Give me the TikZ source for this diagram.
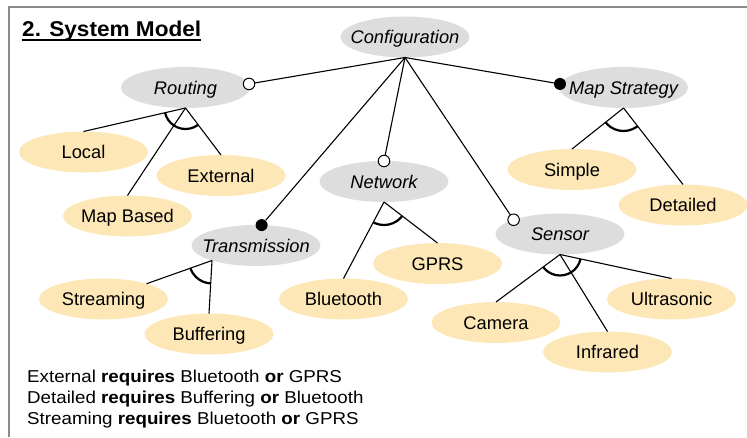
\documentclass[tikz,border=0pt]{standalone}
\usepackage{fontspec}
\setmainfont{Liberation Sans}
\newfontfamily\titlefont[FakeStretch=1.055]{Liberation Sans}
\newfontfamily\notefont[FakeStretch=1.09]{Liberation Sans}
\usetikzlibrary{shapes.geometric,calc}

\definecolor{featgray}{RGB}{221,221,221}
\definecolor{feattan}{RGB}{254,231,183}
\definecolor{framegray}{RGB}{140,140,140}

% zero-width label so the ellipse keeps its fixed size
\newcommand\ftxt[1]{\makebox[0pt]{#1}}

\tikzset{
  feat/.style={ellipse, minimum width=129pt, minimum height=41pt, inner sep=0pt,
    outer sep=0pt, text height=13pt, text depth=0pt},
  absfeat/.style={feat, fill=featgray, font=\fontsize{18.3}{20}\selectfont\itshape},
  leaffeat/.style={feat, fill=feattan, font=\fontsize{18.3}{20}\selectfont},
  optmark/.style={circle, draw, fill=white, line width=1pt, minimum size=11.5pt, inner sep=0pt},
  mandmark/.style={circle, fill=black, minimum size=12pt, inner sep=0pt},
  link/.style={line width=1.1pt},
  groupmark/.style={line width=2.2pt},
  constraint/.style={anchor=base west, inner sep=0pt, font=\notefont\fontsize{17.2}{20}\selectfont}
}

\begin{document}
\begin{tikzpicture}[x=1pt,y=-1pt]
\useasboundingbox (0,0) rectangle (747,437);

% open frame
\draw[framegray, line width=1.6pt] (9,437) -- (9,7) -- (747,7);

% title
\node[anchor=base west, inner sep=0pt, font=\titlefont\fontsize{21.4}{24}\selectfont\bfseries] (title) at (22,36) {2. System Model};
\draw[line width=1.8pt] ([yshift=-3.6pt]title.base west) -- ([yshift=-3.6pt]title.base east);

% features
\node[absfeat] (conf) at (405,37) {\ftxt{Configuration}};
\node[absfeat] (rout) at (185.5,87.5) {\ftxt{Routing}};
\node[absfeat] (maps) at (623.5,87.5) {\ftxt{Map Strategy}};
\node[absfeat] (net) at (384,181.5) {\ftxt{Network}};
\node[absfeat] (trans) at (256,245.5) {\ftxt{Transmission}};
\node[absfeat] (sens) at (560,234) {\ftxt{Sensor}};

\node[leaffeat] (local) at (83.5,152) {\ftxt{Local}};
\node[leaffeat] (ext) at (221,175.5) {\ftxt{External}};
\node[leaffeat] (mapb) at (127.5,216) {\ftxt{Map Based}};
\node[leaffeat] (simple) at (572,169.5) {\ftxt{Simple}};
\node[leaffeat] (detail) at (683,205) {\ftxt{Detailed}};
\node[leaffeat] (bt) at (343.5,299) {\ftxt{Bluetooth}};
\node[leaffeat] (gprs) at (437.5,263.5) {\ftxt{GPRS}};
\node[leaffeat] (stream) at (103.5,299) {\ftxt{Streaming}};
\node[leaffeat] (buff) at (209,334) {\ftxt{Buffering}};
\node[leaffeat] (cam) at (496,322.5) {\ftxt{Camera}};
\node[leaffeat] (infra) at (607.5,352) {\ftxt{Infrared}};
\node[leaffeat] (ultra) at (671.5,299) {\ftxt{Ultrasonic}};

% optional / mandatory markers on the sub-features
\node[optmark] (mR) at ($(rout)+(-10:64.5 and 20.5)$) {};
\node[mandmark] (mM) at ($(maps)+(-170:64.5 and 20.5)$) {};
\node[optmark] (mN) at (net.north) {};
\node[mandmark] (mT) at ($(trans)+(-85:64.5 and 20.5)$) {};
\node[optmark] (mS) at ($(sens)+(-136:64.5 and 20.5)$) {};

\draw[link] (conf.south) -- (mR);
\draw[link] (conf.south) -- (mM);
\draw[link] (conf.south) -- (mN);
\draw[link] (conf.south) -- (mT);
\draw[link] (conf.south) -- (mS);

% branching points of the groups
\coordinate (aR) at (rout.south);
\coordinate (aM) at (maps.south);
\coordinate (aN) at (net.south);
\coordinate (aT) at ($(trans)+(133:64.5 and 20.5)$);
\coordinate (aS) at (sens.south);

% Routing group
\draw[link] (aR) -- (local.north);
\draw[link] (aR) -- (mapb.north);
\draw[link] (aR) -- (ext.north);
\begin{scope}
  \clip (aR) -- (local.north) -- (ext.north) -- cycle;
  \draw[groupmark] (aR) circle[radius=21pt];
\end{scope}

% Map Strategy group
\draw[link] (aM) -- (simple.north);
\draw[link] (aM) -- (detail.north);
\begin{scope}
  \clip (aM) -- (simple.north) -- (detail.north) -- cycle;
  \draw[groupmark] (aM) circle[radius=23pt];
\end{scope}

% Network group
\draw[link] (aN) -- (bt.north);
\draw[link] (aN) -- (gprs.north);
\begin{scope}
  \clip (aN) -- (bt.north) -- (gprs.north) -- cycle;
  \draw[groupmark] (aN) circle[radius=23pt];
\end{scope}

% Transmission group
\draw[link] (aT) -- (stream);
\draw[link] (aT) -- (buff.north);
\begin{scope}
  \clip (aT) -- (stream.center) -- (buff.north) -- cycle;
  \draw[groupmark] (aT) circle[radius=23pt];
\end{scope}

% Sensor group
\draw[link] (aS) -- (cam.north);
\draw[link] (aS) -- (infra.north);
\draw[link] (aS) -- (ultra.north);
\begin{scope}
  \clip (aS) -- (cam.north) -- (ultra.north) -- cycle;
  \draw[groupmark] (aS) circle[radius=21pt];
\end{scope}

% cross-tree constraints
\node[constraint] (k1) at (27,382) {External \textbf{requires} Bluetooth \textbf{or} GPRS};
\node[constraint] (k2) at (27,403) {Detailed \textbf{requires} Buffering \textbf{or} Bluetooth};
\node[constraint] (k3) at (27,424) {Streaming \textbf{requires} Bluetooth \textbf{or} GPRS};
\end{tikzpicture}
\end{document}
